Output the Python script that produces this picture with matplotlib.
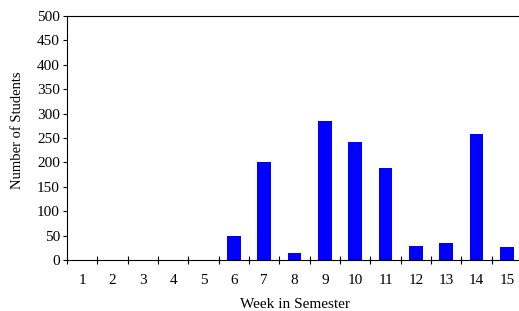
import numpy as np
import matplotlib
matplotlib.use('Agg')
import matplotlib.pyplot as plt

plt.rcParams['font.family'] = ['Liberation Serif', 'DejaVu Serif']

weeks = [str(w) for w in range(1, 16)]
students = [0, 0, 0, 0, 0, 50, 200, 14, 285, 242, 188, 29, 34, 258, 27]
y_ticks = list(range(0, 501, 50))

fig = plt.figure(figsize=(5.19, 3.11), dpi=100)
ax = fig.add_axes([0.129, 0.164, 0.877, 0.785])

x = np.arange(len(weeks))
ax.bar(x, students, width=0.45, color='#0000ff')

ax.set_xlim(-0.5, len(weeks) - 0.5)
ax.set_ylim(0, 500)
ax.set_yticks(y_ticks)
ax.tick_params(axis='y', labelsize=11, length=3, width=0.8, pad=2)

ax.set_xticks(x)
ax.set_xticklabels(weeks, fontsize=11)
ax.set_xticks(np.arange(-0.5, len(weeks), 1), minor=True)
ax.tick_params(axis='x', which='major', length=0, pad=10)
ax.tick_params(axis='x', which='minor', direction='inout', length=6, width=0.8)

for s in ax.spines.values():
    s.set_linewidth(0.8)
ax.spines['right'].set_visible(False)

ax.set_ylabel('Number of Students', fontsize=10.5)
ax.yaxis.set_label_coords(-0.095, 0.53)
ax.set_xlabel('Week in Semester', fontsize=11, labelpad=8)

fig.savefig('out.png', dpi=100)
